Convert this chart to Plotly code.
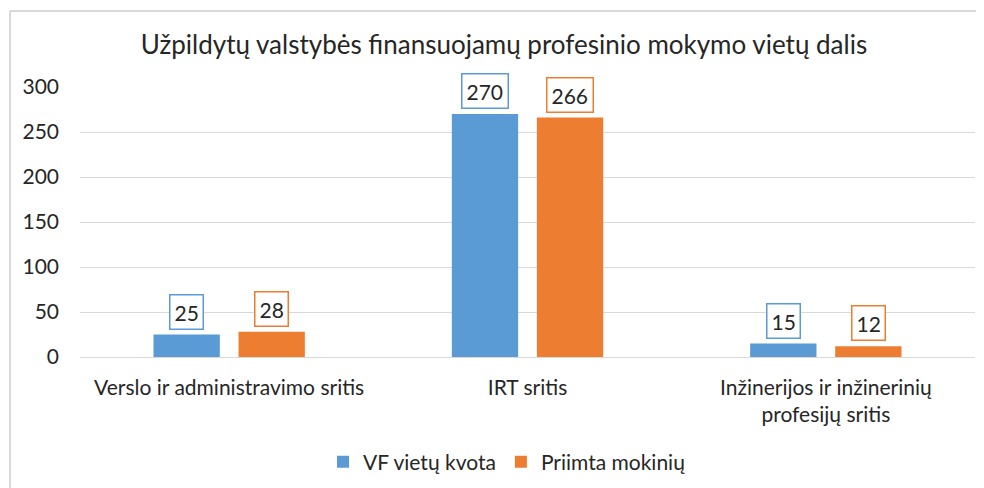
import plotly.graph_objects as go

categories = ["Verslo ir administravimo sritis", "IRT sritis", "Inžinerijos ir inžinerinių profesijų sritis"]
tick_labels = ["Verslo ir administravimo sritis", "IRT sritis", "Inžinerijos ir inžinerinių<br>profesijų sritis"]
series_names = ["VF vietų kvota", "Priimta mokinių"]
quota = [25, 270, 15]
admitted = [28, 266, 12]
colors = ["#5B9BD5", "#ED7D31"]
title_text = "Užpildytų valstybės finansuojamų profesinio mokymo vietų dalis"

OFF = 8  # default page body margin
W, H = 984 - OFF, 488 - OFF
ml, mr, mt, mb = 80 - OFF, 9, 87 - OFF, 131
FONT = "Lato, 'Open Sans', sans-serif"
TXT = "#262626"

fig = go.Figure()
all_series = [quota, admitted]
for name, vals, col in zip(series_names, all_series, colors):
    fig.add_trace(go.Bar(name=name, x=categories, y=vals, marker=dict(color=col, line=dict(width=0))))

# boxed data labels
shifts = [-42.5, 42.5]
for vals, col, sh in zip(all_series, colors, shifts):
    for c, v in zip(categories, vals):
        fig.add_annotation(x=c, y=v, xref="x", yref="y", text=str(v), showarrow=False,
                           xshift=sh, yshift=5, yanchor="bottom",
                           font=dict(family=FONT, size=21, color=TXT),
                           bordercolor=col, borderwidth=1.5, borderpad=4, bgcolor="white")

# outer border (top and left)
pw = W - ml - mr
ph = H - mt - mb
def px2x(px):
    return (px - OFF - ml) / pw
def py2y(py):
    return (H - mb - (py - OFF)) / ph
fig.add_shape(type="line", xref="paper", yref="paper", x0=px2x(10), x1=px2x(990), y0=py2y(11), y1=py2y(11),
              line=dict(color="#D9D9D9", width=2))
fig.add_shape(type="line", xref="paper", yref="paper", x0=px2x(10), x1=px2x(10), y0=py2y(11), y1=py2y(495),
              line=dict(color="#D9D9D9", width=2))

fig.update_layout(
    width=W, height=H, autosize=False,
    margin=dict(l=ml, r=mr, t=mt, b=mb),
    paper_bgcolor="white", plot_bgcolor="white",
    barmode="group", bargap=0.43, bargroupgap=0.22,
    font=dict(family=FONT, size=21, color=TXT),
    title=dict(text=title_text, x=(504 - OFF) / W, xref="container", xanchor="center",
               y=1 - (45 - OFF) / H, yref="container", yanchor="middle",
               font=dict(family=FONT, size=26, color=TXT)),
    legend=dict(orientation="h", xref="container", yref="container", x=(507 - OFF) / W, xanchor="center",
                y=1 - (462 - OFF) / H, yanchor="middle", font=dict(family=FONT, size=21, color=TXT),
                itemwidth=30, traceorder="normal"),
    showlegend=True,
)
fig.update_xaxes(tickvals=categories, ticktext=tick_labels, showgrid=False, showline=False,
                 ticks="", ticklabelstandoff=16, tickfont=dict(family=FONT, size=21, color=TXT))
fig.update_yaxes(range=[0, 300], tickvals=[0, 50, 100, 150, 200, 250, 300], showgrid=True,
                 gridcolor="#D9D9D9", gridwidth=1, zeroline=True, zerolinecolor="#D9D9D9", zerolinewidth=1,
                 showline=False, ticks="", ticklabelstandoff=20,
                 tickfont=dict(family=FONT, size=21, color=TXT))

fig.write_html("out.html")
